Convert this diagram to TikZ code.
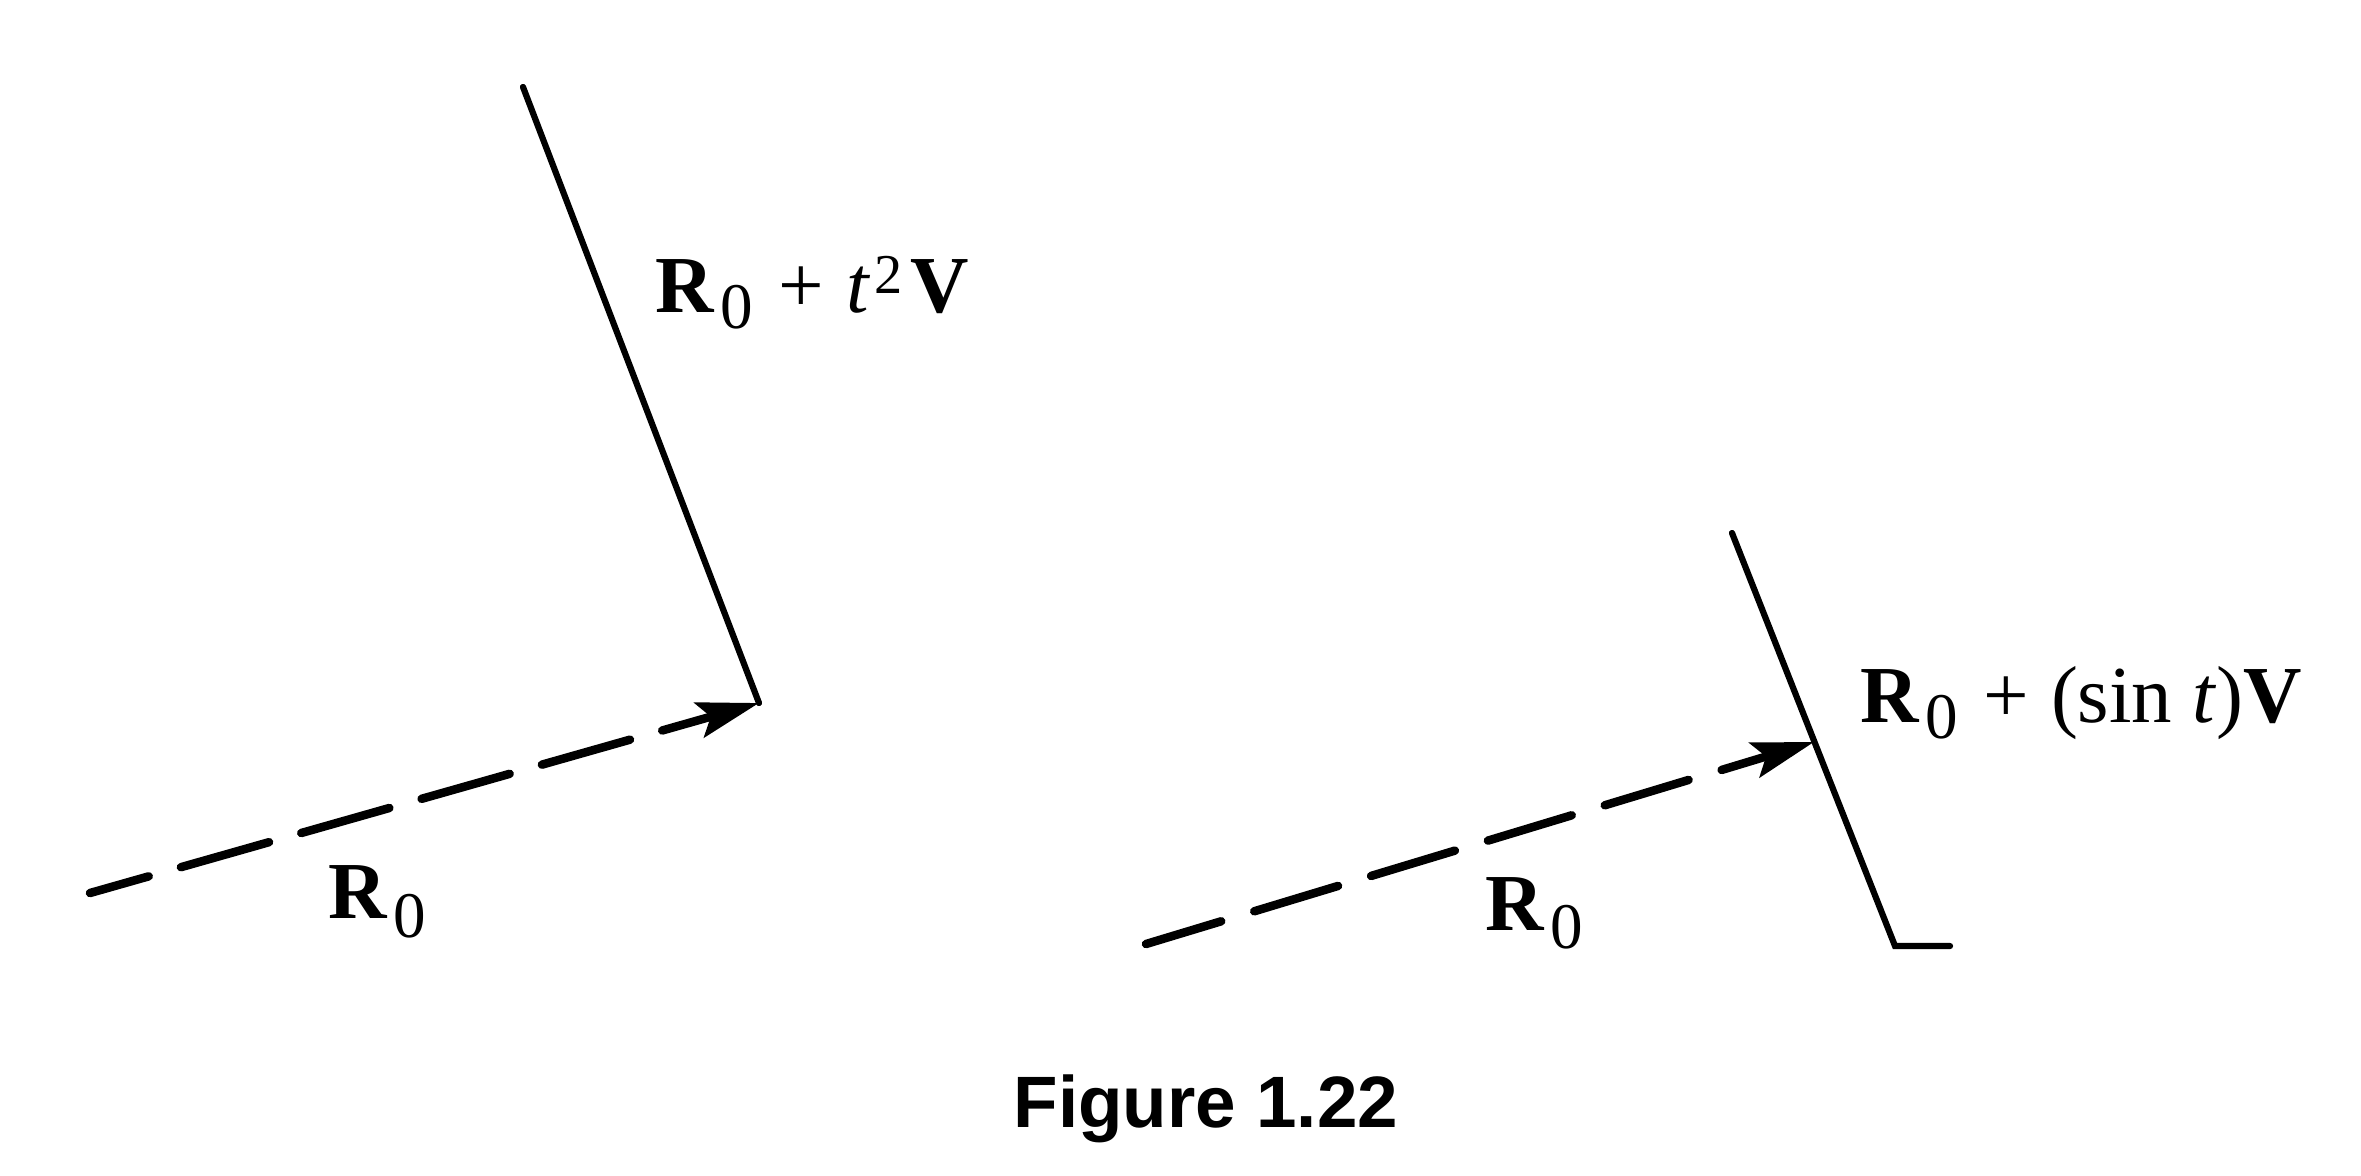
\documentclass[tikz,border=0pt]{standalone}
\usepackage{fontspec}
\setmainfont{Liberation Serif}
\newfontfamily\capfont{Liberation Sans}
\usetikzlibrary{arrows.meta}
\newcommand{\lblsub}[1]{\raisebox{-0.16cm}{\fontsize{18.5}{18.5}\selectfont #1}}
\newcommand{\lblsup}[1]{\raisebox{0.19cm}{\fontsize{16}{16}\selectfont #1}}
\begin{document}
\begin{tikzpicture}[x=0.01cm,y=-0.01cm,
  solidln/.style={line width=0.062cm, line cap=round},
  dashln/.style={line width=0.085cm, line cap=round,
    -{Stealth[length=0.62cm,width=0.36cm,inset=0.12cm]}},
  lbl/.style={inner sep=0pt, font=\fontsize{23}{23}\selectfont, anchor=base west},
  caplbl/.style={inner sep=0pt, font=\capfont\bfseries\fontsize{20.7}{20.7}\selectfont, anchor=base west}]
\useasboundingbox (0,0) rectangle (2361,1175);
% left figure
\coordinate (A1) at (523,87);
\coordinate (A2) at (759,703);
\coordinate (A0) at (90,893);
\draw[solidln] (A1) -- (A2);
\draw[dashln, dash pattern=on 0.915cm off 0.335cm, dash phase=0.305cm] (A0) -- (A2);
\node[lbl] (LA) at (655,312) {\textbf{R}\kern0.06cm\lblsub{0}\kern0.25cm+\kern0.22cm\textit{t}\kern0.04cm\lblsup{2}\kern0.08cm\textbf{V}};
\node[lbl] (LB) at (328,918) {\textbf{R}\kern0.06cm\raisebox{-0.19cm}{\fontsize{18.5}{18.5}\selectfont 0}};
% right figure
\coordinate (B1) at (1732,533);
\coordinate (B2) at (1895,946);
\coordinate (B3) at (1950,946);
\coordinate (BT) at (1814,742);
\coordinate (B0) at (1146,944);
\draw[solidln] (B1) -- (B2) -- (B3);
\draw[dashln, dash pattern=on 0.875cm off 0.345cm, dash phase=0.09cm] (B0) -- (BT);
\node[lbl] (LC) at (1860,722) {\textbf{R}\kern0.06cm\lblsub{0}\kern0.25cm+\kern0.22cm(sin\kern0.2cm\textit{t})\textbf{V}};
\node[lbl] (LD) at (1485,930) {\textbf{R}\kern0.06cm\raisebox{-0.18cm}{\fontsize{18.5}{18.5}\selectfont 0}};
% caption
\node[caplbl] (CAP) at (1013,1127) {Figure 1.22};
\end{tikzpicture}
\end{document}
